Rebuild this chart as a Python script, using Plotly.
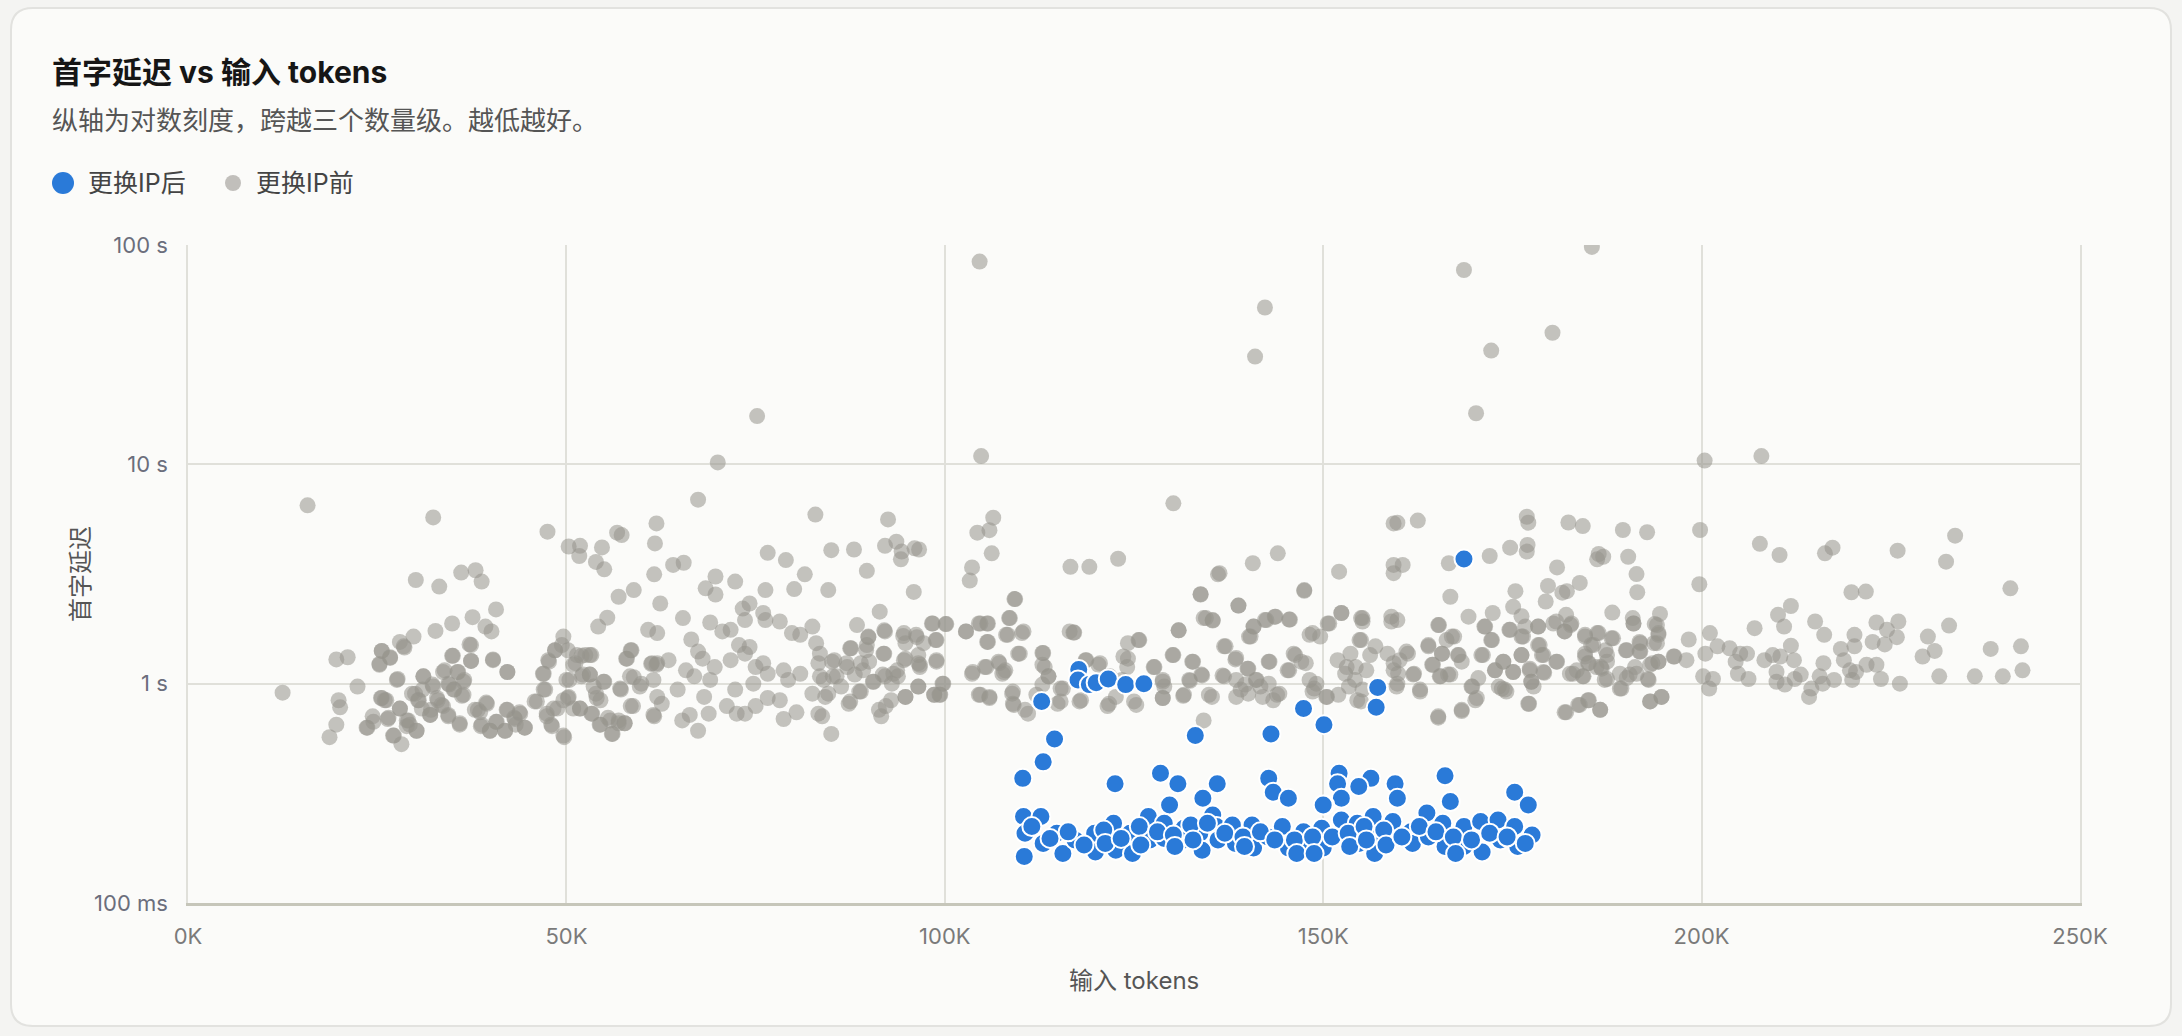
import plotly.graph_objects as go

# (input tokens in K, first-token latency in seconds)
before_points = [
    (15.8, 6.5), (12.5, 0.91), (32.4, 5.73), (70, 10.2), (75.2, 16.6), (104.6, 84), (104.8, 10.9),
    (142.3, 51.9), (141, 31), (168.6, 76.9), (180.3, 39.8), (172.2, 33), (170.2, 17.1), (185.5, 98),
    (200.4, 10.4), (207.9, 10.9), (130.2, 6.64), (67.4, 6.9),
    (47.5, 4.93), (82.9, 5.9), (61.9, 5.38), (61.7, 4.36), (56.7, 4.88), (57.3, 4.76), (50.3, 4.22),
    (51.8, 4.25), (51.7, 3.82), (54.7, 4.18), (53.9, 3.59), (55, 3.32), (61.6, 3.15), (64.1, 3.48),
    (65.5, 3.56), (58.9, 2.67), (56.9, 2.49), (62.4, 2.32), (76.6, 3.95), (79, 3.66), (81.5, 3.15),
    (69.7, 3.08), (68.4, 2.72), (69.7, 2.55), (72.3, 2.92), (76.3, 2.67), (80.1, 2.70),
    (30.1, 2.97), (33.2, 2.77), (36.1, 3.21), (38, 3.29), (38.8, 2.92), (40.7, 2.18), (37.6, 2.01),
    (34.9, 1.88), (32.7, 1.74), (39.3, 1.82), (40.1, 1.73), (29.8, 1.64), (28, 1.55), (28.6, 1.46),
    (25.6, 1.41), (26.7, 1.31), (25.3, 1.22), (19.6, 1.29), (21.1, 1.32), (37.2, 1.51), (34.9, 1.34),
    (37.4, 1.27), (40.3, 1.28), (42.2, 1.13), (27.7, 1.05), (22.4, 0.97), (31.1, 1.08), (33.9, 1.15),
    (35.6, 1.13), (36.5, 1.04), (32.3, 0.99), (34.5, 0.99), (35.2, 0.94), (36.2, 0.88), (30, 0.90),
    (31, 0.94), (30.5, 0.84), (19.9, 0.84), (20.1, 0.78), (19.6, 0.65), (18.7, 0.57), (25.5, 0.86),
    (26.2, 0.84), (24.4, 0.71), (23.7, 0.63), (26.4, 0.69), (28, 0.77), (27.2, 0.58), (28.2, 0.53),
    (29.1, 0.68), (30.2, 0.61), (28.9, 0.64), (32, 0.72), (32.1, 0.76), (33, 0.84), (33.7, 0.79),
    (34.4, 0.71), (35.9, 0.65), (38.3, 0.76), (39.4, 0.82), (38.7, 0.64), (39.9, 0.61), (40.7, 0.67),
    (41.9, 0.61), (42.2, 0.76), (43.1, 0.70), (43.8, 0.74), (44.5, 0.63), (43.3, 0.65),
    (45.8, 0.83), (47, 0.94), (46.9, 1.11), (47.7, 1.26), (48.5, 1.42), (49.6, 1.64), (50.2, 1.42),
    (47.4, 0.73), (48, 0.65), (48.8, 0.77), (49.6, 0.58), (50.4, 1.04), (50.2, 0.86), (51.8, 0.77),
    (51.2, 1.24), (52, 1.34), (53.1, 1.35), (53.1, 1.10), (52, 1.08), (54.2, 1.82), (55.4, 2.0),
    (53.4, 0.73), (54.5, 0.65), (55.5, 0.70), (56.1, 0.59), (56.9, 0.68), (57.7, 0.66), (53.9, 0.90),
    (54.5, 0.84), (55, 1.02), (57.2, 0.94), (58.5, 0.79), (58.5, 1.42), (57.9, 1.30), (58.9, 1.07),
    (59.9, 1.0), (61.5, 1.04), (60.8, 1.76), (62, 1.70), (61.2, 1.23), (62, 1.24), (63.5, 1.28),
    (61.6, 0.71), (62, 0.87), (62.6, 0.81), (65.4, 1.99), (66.5, 1.59), (67.4, 1.40), (68, 1.30),
    (65.8, 1.15), (66.9, 1.08), (64.7, 0.94), (65.3, 0.68), (66.3, 0.72), (67.4, 0.61), (68.2, 0.87),
    (69, 1.04), (68.8, 0.73), (69.6, 1.19), (69, 1.90), (70.6, 1.73), (71.7, 1.76), (73.3, 2.20),
    (74.2, 2.32), (73.6, 1.95), (71.7, 1.28), (72.8, 1.50), (74.2, 1.47), (73.6, 1.37), (72.3, 0.94),
    (71.2, 0.79), (72.5, 0.73), (73.6, 0.73), (75, 0.79), (74.7, 1.0), (76, 2.10), (76.3, 1.95),
    (78.2, 1.92), (76, 1.24), (76.6, 0.86), (78.2, 0.84), (78.7, 1.15), (79.8, 1.70), (80.9, 1.67),
    (78.7, 0.69), (80.4, 0.74), (82.5, 1.82), (83, 1.53), (83.3, 1.24), (82.5, 0.90), (83.3, 0.73),
    (75, 1.19), (76.6, 1.11), (79.3, 1.04), (80.9, 1.11),
    (92.5, 5.61), (85, 4.06), (88, 4.09), (92.1, 4.25), (93.6, 4.44), (94.3, 4.0), (94.2, 3.69),
    (96, 4.14), (96.6, 4.09), (89.7, 3.27), (84.6, 2.67), (95.9, 2.62), (91.4, 2.13), (88.4, 1.85),
    (92.1, 1.73), (89.9, 1.64), (94.6, 1.70), (96.2, 1.67), (98.3, 1.88), (100.2, 1.87), (87.6, 1.45),
    (89.7, 1.50), (91.9, 1.37), (94.8, 1.53), (96.5, 1.35), (98.9, 1.58), (85.1, 1.26), (87, 1.24),
    (88.9, 1.24), (90, 1.26), (93.2, 1.11), (94.6, 1.28), (96.7, 1.22), (98.9, 1.26), (84, 1.04),
    (85.7, 1.08), (88.1, 1.10), (90.5, 1.02), (92.1, 1.08), (93.8, 1.08), (96.5, 0.97), (99.7, 1.0),
    (84.6, 0.90), (87.3, 0.81), (88.9, 0.92), (92.9, 0.84), (94.8, 0.87), (98.6, 0.89), (99.4, 0.89),
    (83.8, 0.71), (85, 0.59), (91.6, 0.71), (91.3, 0.76),
    (103.6, 3.39), (103.3, 2.95), (104.3, 4.88), (105.9, 5.01), (106.4, 5.71), (106.2, 3.93),
    (109.3, 2.43), (108.6, 1.99), (110.2, 1.70), (108.3, 1.67), (104.5, 1.88), (105.6, 1.88),
    (102.8, 1.73), (109.9, 1.37), (112.9, 1.38), (112.9, 1.22), (113.7, 1.08), (105.6, 1.55),
    (103.7, 1.13), (105.3, 1.19), (107.2, 1.24), (107.8, 1.13), (104.5, 0.89), (105.9, 0.86),
    (108.9, 0.90), (109.1, 0.80), (111, 0.73), (115.3, 0.83), (117.8, 0.83), (115.3, 0.95), (112.9, 0.99),
    (116.6, 3.41), (119.1, 3.41), (122.9, 3.71), (117.1, 1.71), (118.6, 1.28), (120.5, 1.24),
    (121.8, 1.08), (124.2, 1.30), (125.7, 1.58), (123.4, 1.04), (122.6, 0.87), (121.5, 0.79),
    (125.3, 0.80), (127.7, 1.19), (128.8, 1.04), (130.2, 1.35), (128.8, 0.86), (130.9, 1.75),
    (133.8, 2.56), (136.1, 3.15), (138.8, 2.27), (140.7, 3.54), (144, 3.93), (147.5, 2.65),
    (134.5, 1.99), (135.4, 1.94), (137.1, 1.48), (138.4, 1.29), (132.7, 1.26), (133.9, 1.10),
    (132.3, 1.04), (131.5, 0.88), (134.2, 0.68), (135.3, 0.87), (136.9, 1.08), (138.5, 1.04),
    (140.1, 1.17), (141.2, 1.04), (140.2, 1.64), (140.8, 1.82), (142.3, 1.95), (143.6, 2.02),
    (145.5, 1.96), (142.8, 1.26), (139.1, 0.94), (140.1, 0.90), (141.7, 0.97), (142.8, 1.0),
    (143.4, 0.84), (144.2, 0.90), (146.1, 1.37), (145.5, 1.15), (147.1, 1.26), (148.2, 1.67),
    (149.6, 1.64), (150.6, 1.88), (152.4, 2.10), (148.2, 1.04), (148.8, 0.95), (150.4, 0.87),
    (152, 0.89), (152.1, 3.24),
    (153.6, 1.37), (155.2, 1.99), (155, 1.58), (153.1, 1.19), (154.2, 1.04), (155.2, 0.94),
    (155, 0.83), (156.9, 1.48), (158.5, 1.37), (159, 2.02), (159.8, 1.95), (160.1, 1.28),
    (159.3, 1.15), (159.8, 1.0), (161.2, 1.37), (162, 1.11), (162.8, 0.94), (163.9, 1.48),
    (165.2, 1.85), (165.7, 1.37), (164.4, 1.22), (165.5, 1.08), (165.2, 0.70), (159.3, 5.38),
    (159.8, 5.42), (162.5, 5.54), (159.3, 3.48), (159.3, 3.19), (160.5, 3.48), (166.8, 2.49), (166.6, 3.54),
    (176.9, 5.77), (177.1, 5.42), (182.4, 5.43), (184.3, 5.23), (189.6, 5.02), (192.8, 4.90),
    (199.8, 5.02), (174.7, 4.17), (177, 4.29), (176.9, 4.0), (172, 3.82), (186.4, 3.90), (186.2, 3.69),
    (187, 3.79), (190.3, 3.79), (180.9, 3.39), (191.4, 3.16), (191.5, 2.61), (179.7, 2.79),
    (181.6, 2.60), (182.2, 2.64), (183.9, 2.88), (179.4, 2.37), (175.4, 2.64), (175.1, 2.24), (176.2, 2.03),
    (169.2, 2.02), (172.4, 2.10), (171.3, 1.82), (174.6, 1.76), (176.7, 1.82), (178.4, 1.82),
    (180.8, 1.92), (182.1, 2.06), (181.9, 1.73), (182.7, 1.85), (188.2, 2.11), (190.9, 1.99),
    (191, 1.88), (194.5, 2.08), (193.8, 1.87),
    (167.3, 1.64), (172.2, 1.58), (176.2, 1.64), (178.4, 1.50), (184.6, 1.64), (185.4, 1.50),
    (186.2, 1.70), (188.1, 1.61), (191.8, 1.55), (193.7, 1.53), (194.3, 1.70), (190, 1.42),
    (167.8, 1.35), (171.1, 1.35), (173.8, 1.26), (176.2, 1.35), (178.9, 1.35), (180.9, 1.26),
    (184.6, 1.33), (185.1, 1.24), (186.7, 1.19), (187.3, 1.42), (191.8, 1.40), (193.5, 1.24),
    (194.3, 1.26), (196.4, 1.33), (198, 1.28), (198.3, 1.59), (201.1, 1.70),
    (166.8, 1.10), (169.7, 0.97), (170.3, 0.86), (173.2, 0.97), (174, 0.94), (177.5, 1.02),
    (177.2, 0.81), (168.3, 0.75), (172.7, 1.15), (175.1, 1.13), (177.3, 1.15), (179.2, 1.12),
    (183, 1.11), (184.3, 1.08), (187.5, 1.05), (189.4, 0.95), (190.5, 1.10), (192.9, 1.05),
    (193.2, 0.83), (194.7, 0.87), (185.1, 0.84), (183.7, 0.80), (182.1, 0.74), (186.6, 0.76),
    (199.7, 2.84), (207.7, 4.34), (210.3, 3.86), (216.3, 3.93), (217.3, 4.17), (225.9, 4.04),
    (233.5, 4.73), (232.3, 3.60), (240.8, 2.72), (219.8, 2.61), (221.7, 2.63), (211.8, 2.26),
    (210.1, 2.06), (210.9, 1.82), (215, 1.92), (216.2, 1.67), (207, 1.79),
    (223.1, 1.90), (224.5, 1.76), (226, 1.92), (225.8, 1.63), (224.2, 1.51), (222.6, 1.55),
    (220.2, 1.67), (232.7, 1.84), (229.9, 1.64), (230.8, 1.41), (229.2, 1.33),
    (200.5, 1.37), (202.1, 1.48), (203.7, 1.45), (205.1, 1.37), (206, 1.37), (204.5, 1.26),
    (200.2, 1.08), (201.5, 1.05), (201, 0.95), (204.8, 1.11), (206.2, 1.05), (208.3, 1.28),
    (209.4, 1.35), (210.4, 1.33), (212.2, 1.28), (211.8, 1.49), (209.9, 1.13), (209.9, 1.02),
    (211, 0.99), (213.1, 1.10), (212.3, 1.05), (214.5, 0.95), (214.2, 0.87), (216.1, 1.24),
    (215.6, 1.08), (216, 1.0), (217.5, 1.04),
    (218.4, 1.44), (220.2, 1.48), (218.8, 1.28), (219.6, 1.15), (220.4, 1.13), (219.9, 1.04),
    (221.8, 1.22), (223.1, 1.22), (223.7, 1.05), (226.2, 1.0), (231.4, 1.08), (236.1, 1.08),
    (238.2, 1.44), (239.8, 1.08), (242.2, 1.48), (242.4, 1.15),
    # denser core, 157K-197K
    (159.0, 1.92), (165.3, 1.85), (171.4, 1.82), (174.7, 1.76), (176.4, 1.64), (178.4, 1.82),
    (180.4, 1.88), (181.9, 1.73), (182.8, 1.88), (184.6, 1.67), (186.4, 1.70), (188.3, 1.61),
    (191, 1.88), (194.1, 1.85), (194.3, 1.67), (163.9, 1.50), (166.3, 1.58), (167, 1.64),
    (165.7, 1.37), (167.9, 1.35), (168.3, 1.26), (170.9, 1.35), (172.3, 1.58), (176.2, 1.35),
    (178.6, 1.50), (179.1, 1.35), (180.8, 1.26), (184.6, 1.37), (185.7, 1.50), (187.5, 1.35),
    (190.1, 1.42), (191.9, 1.53), (191.9, 1.40), (194.1, 1.53), (196.3, 1.33), (161, 1.40),
    (164.5, 1.22), (165.4, 1.08), (166.5, 1.10), (161.9, 1.10), (162.8, 0.92), (159.3, 1.24),
    (159.9, 1.11), (159.7, 0.97), (169.6, 0.97), (170.5, 1.06), (170.1, 0.84), (172.7, 1.15),
    (173.8, 1.26), (173.6, 0.95), (174.2, 0.92), (175.1, 1.13), (177.3, 1.17), (177.5, 1.02),
    (177.8, 0.97), (179.1, 1.13), (182.6, 1.11), (183.5, 1.15), (184.4, 1.08), (185, 1.24),
    (186.1, 1.19), (186.8, 1.17), (187.5, 1.26), (187.2, 1.04), (189.2, 1.11), (190.1, 1.06),
    (191.2, 1.19), (191.4, 1.11), (193.2, 1.22), (194.3, 1.26), (193, 1.04), (189.2, 0.95),
    (177.1, 0.81), (165.2, 0.71), (168.3, 0.76), (181.9, 0.74), (183.9, 0.80), (185, 0.84),
    (186.6, 0.76), (193.2, 0.83), (194.7, 0.87),
    # denser core, 20K-62K
    (25.6, 1.41), (26.7, 1.32), (25.3, 1.23), (27.6, 1.04), (28.5, 1.48), (23.6, 0.63),
    (24.5, 0.67), (26.5, 0.70), (28, 0.77), (28.9, 0.68), (29.3, 0.65), (30.2, 0.61), (27.1, 0.58),
    (25.6, 0.86), (26.0, 0.84), (29.6, 0.90), (30.4, 0.84), (31.1, 1.08), (32.4, 0.97),
    (30.9, 0.77), (32, 0.72), (32.9, 0.86), (33.7, 1.13), (34.4, 1.0), (35.1, 0.94), (35.7, 1.13),
    (36.4, 1.02), (36.4, 0.89), (33.5, 0.80), (34.4, 0.72), (35.9, 0.66), (35, 1.34), (37.4, 1.50),
    (37.4, 1.27), (37.9, 0.76), (38.6, 0.74), (39.5, 0.81), (38.8, 0.65), (39.9, 0.61),
    (40.8, 0.67), (41.9, 0.61), (42.1, 0.76), (43.2, 0.69), (43.9, 0.73), (44.5, 0.63),
    (40.3, 1.29), (42.2, 1.13), (46.1, 0.83), (47, 1.11), (47.6, 1.28), (48.5, 1.42), (47.2, 0.94),
    (47.4, 0.71), (48.1, 0.64), (48.3, 0.77), (49.6, 0.84), (50, 1.04), (50.3, 0.87), (50.9, 0.77),
    (51.8, 0.77), (49.7, 0.57), (49.4, 1.50), (50.9, 1.22), (51.4, 1.35), (52.5, 1.35),
    (53.3, 1.35), (52.2, 1.10), (53.1, 1.10), (53.6, 0.97), (54, 0.86), (53.3, 0.73), (54.4, 0.65),
    (54.9, 1.02), (55.8, 0.68), (56, 0.59), (56.9, 0.66), (57.1, 0.95), (57.7, 0.66), (58, 1.30),
    (58.6, 1.42), (58.4, 1.08), (58.8, 0.79), (59.7, 0.97), (61.3, 1.24), (61.5, 0.72), (61.9, 1.22),
    # denser core, 83K-157K
    (92, 1.75), (89.9, 1.63), (94.5, 1.65), (96.3, 1.63), (97.2, 1.53), (98.4, 1.88), (100.1, 1.87),
    (98.8, 1.58), (87.5, 1.45), (89.6, 1.42), (92, 1.37), (94.8, 1.30), (96.5, 1.24), (98.9, 1.28),
    (85.4, 1.28), (83.5, 1.37), (87.1, 1.19), (89.2, 1.15), (93.7, 1.15), (96.7, 1.19), (99.8, 1.0),
    (85.2, 1.08), (83.5, 1.08), (91.8, 1.10), (86.3, 0.97), (88.7, 0.92), (90.6, 1.02), (93, 1.0),
    (94.8, 0.87), (96.5, 0.97), (98.6, 0.89), (84.2, 0.87), (87.5, 0.83), (92.2, 0.79), (99.3, 0.89),
    (102.8, 1.73), (104.7, 1.88), (105.7, 1.88), (105.7, 1.55), (108.5, 1.99), (108.1, 1.67),
    (110.4, 1.73), (109.7, 1.37), (109.2, 2.43), (103.6, 1.11), (105.5, 1.19), (107.1, 1.26),
    (108, 1.15), (107.6, 1.11), (104.7, 0.89), (105.9, 0.87), (109, 0.92), (109, 0.81), (110.6, 0.76),
    (113, 1.38), (113.2, 1.19), (113.7, 1.08), (112.1, 0.89), (115.6, 0.95), (116.5, 1.73),
    (117, 1.71), (118.7, 1.28), (120.3, 1.22), (114.9, 0.81), (118, 0.84), (121.7, 0.81),
    (123.6, 1.33), (124.2, 1.53), (125.6, 1.58), (124.1, 1.19), (125, 0.83),
    (127.6, 1.19), (128.8, 1.02), (129, 0.97), (130.1, 1.35), (130.9, 1.75), (132.8, 1.26),
    (133.8, 2.55), (134.2, 1.99), (135.4, 1.95), (136.3, 3.19), (136.9, 1.48), (138.5, 1.31),
    (138.8, 2.27), (140, 1.17), (140.8, 1.82), (140.4, 1.64), (142.5, 1.95), (143.7, 2.02),
    (145.6, 1.96), (142.9, 1.26), (141.1, 1.04), (139.7, 0.99), (138.5, 0.87), (136.7, 1.09),
    (134, 1.09), (132.4, 1.03), (131.6, 0.89), (128.8, 0.86), (134.9, 0.89), (142, 0.87),
    (143.9, 0.89), (145.3, 1.15), (146.3, 1.35), (147.5, 2.67), (148.6, 1.70), (147.7, 1.24),
    (149.1, 1.0), (148.6, 0.92), (152.4, 2.10), (150.8, 1.88), (155, 1.99), (155.2, 1.92),
    (154.8, 1.58), (156.2, 1.35), (151.9, 1.28), (154.3, 1.19), (155.7, 1.15), (152.9, 1.11),
    (153.4, 0.97), (150.5, 0.87), (154.5, 0.84),
]

after_points = [
    (168.6, 3.70), (112.8, 0.83), (117.7, 1.16), (117.6, 1.04), (119.1, 0.99), (120, 1.01),
    (121.6, 1.05), (123.9, 0.99), (126.3, 1.0), (157.2, 0.96), (157, 0.78), (147.4, 0.77),
    (150.1, 0.65), (114.5, 0.56), (133.1, 0.58), (143.1, 0.59), (113, 0.44), (110.3, 0.37),
    (122.5, 0.35), (128.5, 0.39), (130.8, 0.35), (136, 0.35), (134.1, 0.30), (142.8, 0.37),
    (143.4, 0.32), (145.4, 0.30), (152.1, 0.39), (151.9, 0.35), (156.3, 0.37), (154.7, 0.34),
    (152.4, 0.30), (150.2, 0.28), (159.5, 0.35), (159.8, 0.30), (166.1, 0.38), (166.8, 0.29),
    (175.3, 0.32), (177.1, 0.28), (129.7, 0.28),
    (110.4, 0.248), (112.7, 0.248), (110.6, 0.208), (113, 0.187), (110.5, 0.163), (114.8, 0.208),
    (115.6, 0.168), (117.2, 0.194), (119.8, 0.208), (119.9, 0.171), (122.3, 0.231), (122.6, 0.174),
    (124.5, 0.208), (124.8, 0.168), (126.9, 0.248), (127.1, 0.194), (129, 0.231), (129, 0.197),
    (131.6, 0.219), (131.6, 0.194), (133.7, 0.208), (134, 0.174), (135.4, 0.252), (135.9, 0.223),
    (136.1, 0.194), (138, 0.227), (138.4, 0.187), (140.6, 0.227), (140.8, 0.178), (142.7, 0.200),
    (144.6, 0.223), (145.4, 0.178), (147.4, 0.211), (147.6, 0.181), (149.8, 0.219), (150, 0.178),
    (150, 0.280), (152.4, 0.239), (154.5, 0.231), (154.7, 0.187), (156.6, 0.248), (156.8, 0.200),
    (156.8, 0.168), (159.2, 0.235), (161.6, 0.211), (161.8, 0.187), (163.7, 0.257), (163.9, 0.200),
    (165.8, 0.231), (166.1, 0.181), (168.6, 0.223), (168.6, 0.181), (170.8, 0.235), (171, 0.171),
    (173.1, 0.239), (173.4, 0.194), (175.3, 0.223), (175.7, 0.181), (177.6, 0.204),
    (111.5, 0.223), (113.9, 0.197), (116.3, 0.211), (118.4, 0.184), (121, 0.215), (121.2, 0.187),
    (123.3, 0.197), (125.7, 0.223), (125.9, 0.184), (128.1, 0.211), (130.2, 0.204), (130.4, 0.181),
    (132.5, 0.227), (132.8, 0.194), (134.7, 0.231), (137, 0.208), (139.4, 0.200), (139.6, 0.181),
    (141.7, 0.211), (143.6, 0.194), (146.2, 0.194), (146.5, 0.168), (148.6, 0.200), (148.8, 0.168),
    (151.2, 0.200), (153.3, 0.208), (153.5, 0.181), (155.4, 0.223), (155.7, 0.194), (158, 0.215),
    (158.3, 0.184), (160.4, 0.200), (162.7, 0.223), (164.9, 0.211), (167.2, 0.200), (167.5, 0.168),
    (169.6, 0.194), (172, 0.208), (174.3, 0.200), (176.7, 0.187),
]

x_ticks = [0, 50, 100, 150, 200, 250]
x_tick_labels = ["0K", "50K", "100K", "150K", "200K", "250K"]
y_ticks = [0.1, 1, 10, 100]
y_tick_labels = ["100 ms", "1 s", "10 s", "100 s"]

BLUE = "#2a7ad8"
FONT = "Inter, 'Noto Sans CJK SC', sans-serif"

# figure geometry in pixels
FW, FH = 2182, 1036
ML, MR, MT, MB = 188, 102, 245, 133
PW, PH = FW - ML - MR, FH - MT - MB


def fx(p):
    return (p - ML) / PW


def fy(p):
    return (FH - MB - p) / PH


fig = go.Figure()

fig.add_trace(go.Scatter(
    x=[p[0] for p in before_points],
    y=[p[1] for p in before_points],
    mode="markers",
    name="更换IP前",
    marker=dict(size=16, color="rgba(150,147,140,0.55)", line=dict(width=0)),
    hoverinfo="skip",
))
fig.add_trace(go.Scatter(
    x=[p[0] for p in after_points],
    y=[p[1] for p in after_points],
    mode="markers",
    name="更换IP后",
    marker=dict(size=19, color=BLUE, line=dict(width=2, color="white")),
    hoverinfo="skip",
))

# card with rounded corners
L, R, T, B, rad = 11, 2171, 8, 1026, 22
card = (
    f"M {fx(L + rad)},{fy(T)} L {fx(R - rad)},{fy(T)} Q {fx(R)},{fy(T)} {fx(R)},{fy(T + rad)} "
    f"L {fx(R)},{fy(B - rad)} Q {fx(R)},{fy(B)} {fx(R - rad)},{fy(B)} "
    f"L {fx(L + rad)},{fy(B)} Q {fx(L)},{fy(B)} {fx(L)},{fy(B - rad)} "
    f"L {fx(L)},{fy(T + rad)} Q {fx(L)},{fy(T)} {fx(L + rad)},{fy(T)} Z"
)
shapes = [
    dict(type="path", xref="paper", yref="paper", path=card, layer="below",
         fillcolor="#fbfbf9", line=dict(color="#e2e2df", width=2)),
    dict(type="circle", xref="paper", yref="paper", xsizemode="pixel", ysizemode="pixel",
         xanchor=fx(63), yanchor=fy(183), x0=-11, x1=11, y0=-11, y1=11,
         fillcolor=BLUE, line=dict(width=0)),
    dict(type="circle", xref="paper", yref="paper", xsizemode="pixel", ysizemode="pixel",
         xanchor=fx(233), yanchor=fy(183), x0=-8, x1=8, y0=-8, y1=8,
         fillcolor="#c1bfbb", line=dict(width=0)),
]

annotations = [
    dict(text="<b>首字延迟 vs 输入 tokens</b>", x=fx(50), y=fy(72), xref="paper", yref="paper",
         xanchor="left", yanchor="middle", showarrow=False, font=dict(size=30, color="#161616")),
    dict(text="纵轴为对数刻度，跨越三个数量级。越低越好。", x=fx(50), y=fy(120), xref="paper", yref="paper",
         xanchor="left", yanchor="middle", showarrow=False, font=dict(size=26, color="#555555")),
    dict(text="更换IP后", x=fx(86), y=fy(183), xref="paper", yref="paper",
         xanchor="left", yanchor="middle", showarrow=False, font=dict(size=25, color="#444444")),
    dict(text="更换IP前", x=fx(254), y=fy(183), xref="paper", yref="paper",
         xanchor="left", yanchor="middle", showarrow=False, font=dict(size=25, color="#444444")),
    dict(text="输入 tokens", x=0.5, y=fy(980), xref="paper", yref="paper",
         xanchor="center", yanchor="middle", showarrow=False, font=dict(size=24, color="#555555")),
    dict(text="首字延迟", x=fx(80), y=0.5, xref="paper", yref="paper", textangle=-90,
         xanchor="center", yanchor="middle", showarrow=False, font=dict(size=24, color="#555555")),
]

fig.update_layout(
    width=FW,
    height=FH,
    margin=dict(l=ML, r=MR, t=MT, b=MB),
    paper_bgcolor="#f4f4f2",
    plot_bgcolor="rgba(0,0,0,0)",
    font=dict(family=FONT),
    showlegend=False,
    shapes=shapes,
    annotations=annotations,
    xaxis=dict(
        range=[0, 250],
        tickvals=x_ticks,
        ticktext=x_tick_labels,
        showgrid=True,
        gridcolor="#e0e0da",
        gridwidth=1.5,
        zeroline=False,
        showline=True,
        linecolor="#c6c6ba",
        linewidth=2.5,
        ticks="",
        ticklabelstandoff=12,
        tickfont=dict(size=22, color="#7a7a7a"),
    ),
    yaxis=dict(
        type="log",
        range=[-1, 2],
        tickvals=y_ticks,
        ticktext=y_tick_labels,
        showgrid=True,
        gridcolor="#e0e0da",
        gridwidth=1.5,
        zeroline=False,
        showline=True,
        mirror=True,
        linecolor="#e0e0da",
        linewidth=1.5,
        ticks="",
        ticklabelstandoff=14,
        tickfont=dict(size=22, color="#6b6e7c"),
    ),
)

fig.write_html("out.html", config={"displayModeBar": False},
               post_script="document.body.style.margin='0px';")
